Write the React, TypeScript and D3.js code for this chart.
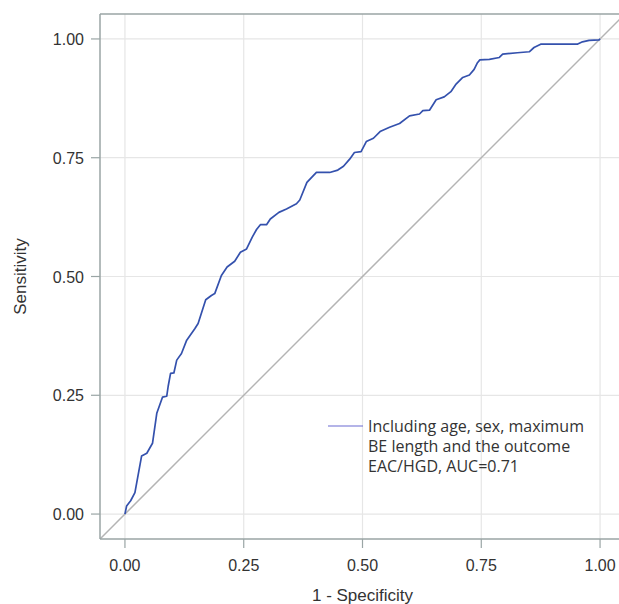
import React from "react";
import * as d3 from "d3";

// ROC curve points (1 - specificity, sensitivity)
const fpr = [
  0, 0.0035, 0.012, 0.021, 0.035, 0.046, 0.058, 0.067, 0.079, 0.088, 0.091,
  0.096, 0.103, 0.109, 0.119, 0.13, 0.137, 0.147, 0.154, 0.17, 0.182, 0.189,
  0.203, 0.215, 0.231, 0.243, 0.256, 0.268, 0.277, 0.285, 0.298, 0.306, 0.324,
  0.34, 0.361, 0.368, 0.383, 0.403, 0.431, 0.448, 0.46, 0.473, 0.483, 0.497,
  0.508, 0.523, 0.537, 0.557, 0.578, 0.599, 0.62, 0.627, 0.641, 0.655, 0.672,
  0.686, 0.697, 0.711, 0.725, 0.735, 0.742, 0.747, 0.767, 0.788, 0.795, 0.826,
  0.851, 0.861, 0.875, 0.952, 0.963, 0.977, 0.998, 1,
];
const tpr = [
  0, 0.017, 0.028, 0.045, 0.122, 0.128, 0.149, 0.212, 0.246, 0.248, 0.269,
  0.296, 0.297, 0.324, 0.338, 0.366, 0.376, 0.39, 0.401, 0.451, 0.46, 0.464,
  0.502, 0.52, 0.532, 0.551, 0.558, 0.583, 0.599, 0.609, 0.609, 0.621, 0.635,
  0.642, 0.653, 0.661, 0.698, 0.719, 0.719, 0.724, 0.732, 0.747, 0.761, 0.763,
  0.784, 0.791, 0.805, 0.814, 0.822, 0.838, 0.842, 0.849, 0.85, 0.872, 0.878,
  0.889, 0.905, 0.919, 0.924, 0.936, 0.95, 0.956, 0.957, 0.961, 0.968, 0.971,
  0.973, 0.982, 0.989, 0.989, 0.994, 0.997, 0.998, 1,
];
const ticks = [0, 0.25, 0.5, 0.75, 1];
const legendLines = [
  "Including age, sex, maximum",
  "BE length and the outcome",
  "EAC/HGD, AUC=0.71",
];

const W = 619;
const H = 604;

export default function App() {
  const pad = 0.0525;
  const x = d3.scaleLinear().domain([-pad, 1 + pad]).range([100, 625]);
  const y = d3.scaleLinear().domain([-pad, 1 + pad]).range([539, 14]);
  const fmt = d3.format(".2f");

  const pts: [number, number][] = fpr.map((f, i) => [f, tpr[i]]);
  const line = d3
    .line<[number, number]>()
    .x(d => x(d[0]))
    .y(d => y(d[1]));

  const axisColor = "#9aa5a5";
  const textColor = "#333";
  const x0 = x(-pad);
  const y0 = y(-pad);
  const y1 = y(1 + pad);

  return (
    <svg
      width={W}
      height={H}
      style={{ position: "absolute", left: 0, top: 0, background: "#fff" }}
      fontFamily="'Liberation Sans', Arial, sans-serif"
    >
      <defs>
        <clipPath id="plot">
          <rect x={x0} y={y1} width={W - x0} height={y0 - y1} />
        </clipPath>
      </defs>

      {/* grid */}
      {ticks.map(t => (
        <line key={"gx" + t} x1={x(t)} x2={x(t)} y1={y1} y2={y0} stroke="#e6e6e6" strokeWidth={1.2} />
      ))}
      {ticks.map(t => (
        <line key={"gy" + t} x1={x0} x2={W} y1={y(t)} y2={y(t)} stroke="#e6e6e6" strokeWidth={1.2} />
      ))}

      <g clipPath="url(#plot)">
        {/* reference diagonal */}
        <line
          x1={x(-pad)}
          y1={y(-pad)}
          x2={x(1 + pad)}
          y2={y(1 + pad)}
          stroke="#b4b4b4"
          strokeWidth={1.5}
        />
        <path d={line(pts) || ""} fill="none" stroke="#3451ad" strokeWidth={1.7} strokeLinejoin="round" />
      </g>

      {/* frame */}
      <line x1={x0} x2={W} y1={y1} y2={y1} stroke={axisColor} strokeWidth={1.5} />
      <line x1={x0} x2={x0} y1={y1} y2={y0} stroke={axisColor} strokeWidth={1.5} />
      <line x1={x0} x2={W} y1={y0} y2={y0} stroke={axisColor} strokeWidth={1.5} />

      {/* x axis */}
      {ticks.map(t => (
        <g key={"xt" + t}>
          <line x1={x(t)} x2={x(t)} y1={y0} y2={y0 + 9} stroke={axisColor} strokeWidth={1.2} />
          <text x={x(t)} y={y0 + 32} textAnchor="middle" fontSize={16} fill={textColor}>
            {fmt(t)}
          </text>
        </g>
      ))}
      <text x={x(0.5)} y={601} textAnchor="middle" fontSize={17} fill={textColor}>
        1 - Specificity
      </text>

      {/* y axis */}
      {ticks.map(t => (
        <g key={"yt" + t}>
          <line x1={x0 - 9} x2={x0} y1={y(t)} y2={y(t)} stroke={axisColor} strokeWidth={1.2} />
          <text x={x0 - 16} y={y(t) + 6} textAnchor="end" fontSize={16} fill={textColor}>
            {fmt(t)}
          </text>
        </g>
      ))}
      <text
        transform={`translate(26,${y(0.5)}) rotate(-90)`}
        textAnchor="middle"
        fontSize={17}
        fill={textColor}
      >
        Sensitivity
      </text>

      {/* legend */}
      <line x1={328} x2={363} y1={426} y2={426} stroke="#6a6ad2" strokeWidth={1.2} />
      {legendLines.map((s, i) => (
        <text
          key={s}
          x={368}
          y={426 + i * 20}
          dy="0.35em"
          fontSize={16}
          fontFamily="'Open Sans', sans-serif"
          fill={textColor}
        >
          {s}
        </text>
      ))}
    </svg>
  );
}
